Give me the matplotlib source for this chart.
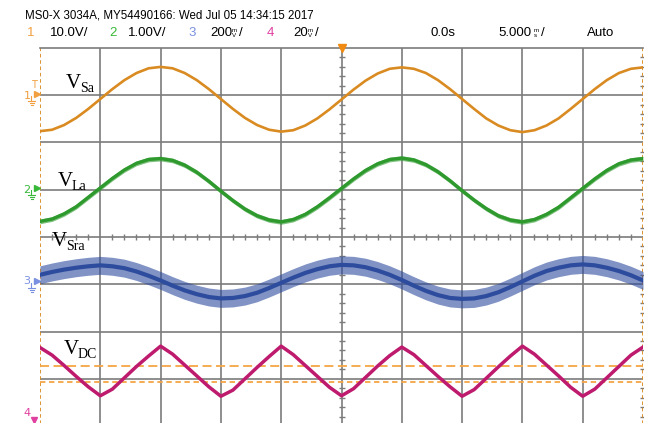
import matplotlib
matplotlib.use("Agg")
import matplotlib.pyplot as plt
import numpy as np

# sample times (ms), 1 ms apart, 10 div x 5 ms/div
t_ms = np.arange(-25, 26)

# trace values in screen divisions (0 = centre line)
v_sa = [2.24, 2.27, 2.37, 2.52, 2.71, 2.92, 3.13, 3.32, 3.47, 3.57,
        3.60, 3.57, 3.47, 3.32, 3.13, 2.92, 2.71, 2.52, 2.37, 2.27,
        2.23, 2.26, 2.36, 2.51, 2.70, 2.91, 3.12, 3.31, 3.46, 3.56,
        3.59, 3.56, 3.47, 3.32, 3.13, 2.92, 2.71, 2.51, 2.36, 2.26,
        2.22, 2.26, 2.36, 2.51, 2.71, 2.92, 3.13, 3.32, 3.47, 3.56, 3.59]
v_la = [0.33, 0.38, 0.49, 0.64, 0.84, 1.04, 1.24, 1.42, 1.56, 1.64,
        1.66, 1.62, 1.52, 1.37, 1.18, 0.97, 0.77, 0.59, 0.45, 0.36,
        0.32, 0.37, 0.48, 0.64, 0.83, 1.03, 1.23, 1.41, 1.55, 1.64,
        1.67, 1.63, 1.53, 1.38, 1.19, 0.98, 0.78, 0.60, 0.45, 0.36,
        0.32, 0.37, 0.48, 0.63, 0.83, 1.03, 1.23, 1.41, 1.55, 1.63, 1.66]
v_sra = [-0.80, -0.74, -0.69, -0.65, -0.62, -0.60, -0.62, -0.66, -0.73, -0.82,
         -0.92, -1.03, -1.13, -1.21, -1.27, -1.30, -1.29, -1.25, -1.18, -1.08,
         -0.97, -0.86, -0.76, -0.68, -0.62, -0.59, -0.60, -0.64, -0.71, -0.80,
         -0.91, -1.03, -1.14, -1.23, -1.29, -1.31, -1.30, -1.25, -1.17, -1.06,
         -0.94, -0.82, -0.72, -0.65, -0.60, -0.58, -0.60, -0.65, -0.72, -0.81, -0.92]
v_dc = [-2.34, -2.50, -2.72, -2.95, -3.17, -3.36, -3.22, -2.98, -2.74, -2.52,
        -2.31, -2.48, -2.71, -2.94, -3.17, -3.37, -3.24, -3.00, -2.76, -2.53,
        -2.31, -2.49, -2.72, -2.95, -3.18, -3.36, -3.21, -2.97, -2.73, -2.51,
        -2.33, -2.49, -2.72, -2.95, -3.17, -3.37, -3.23, -2.99, -2.75, -2.52,
        -2.31, -2.48, -2.71, -2.94, -3.18, -3.37, -3.22, -2.98, -2.74, -2.50, -2.33]
sra_noise = 0.19      # half width of the noisy blue band (div)
la_noise = 0.05
dc_levels = [-2.73, -3.07]   # orange dashed cursor lines

trace_labels = [("S", "a"), ("L", "a"), ("S", "ra"), ("DC", "")]
header = "MS0-X 3034A, MY54490166: Wed Jul 05 14:34:15 2017"

c_orange = "#D98B22"
c_green = "#2E9A2E"
c_blue = "#2D4C9E"
c_magenta = "#BE1A6E"
c_grid = "#7C7C7C"

W, H = 659, 423
fig = plt.figure(figsize=(W / 100, H / 100), dpi=100)
ax = fig.add_axes([40 / W, 1 - 426 / H, 603 / W, 378 / H])
ax.set_xlim(-25, 25)
ax.set_ylim(-4, 4)
ax.set_xticks([])
ax.set_yticks([])
for s in ["left", "right"]:
    ax.spines[s].set_visible(False)
for s in ["top", "bottom"]:
    ax.spines[s].set_color(c_grid)
    ax.spines[s].set_linewidth(1.2)

# graticule
for x in range(-20, 25, 5):
    ax.axvline(x, color=c_grid, lw=1.2, zorder=1)
for y in range(-3, 4):
    ax.axhline(y, color=c_grid, lw=1.2, zorder=1)
minor_x = [x for x in range(-24, 25) if x % 5 != 0]
minor_y = [y / 5 for y in range(-19, 20) if y % 5 != 0]
ax.plot(minor_x, [0] * len(minor_x), ls="", marker="|", ms=5, mew=1, color=c_grid, zorder=1)
ax.plot([0] * len(minor_y), minor_y, ls="", marker="_", ms=5, mew=1, color=c_grid, zorder=1)
ax.plot([25] * len(minor_y), minor_y, ls="", marker="_", ms=5, mew=1, color=c_grid, zorder=1)
ax.axvline(-25, color=c_orange, lw=1.3, ls=(0, (2, 1.5)), zorder=2)
ax.axvline(25, color=c_orange, lw=1.3, ls=(0, (2, 1.5)), zorder=2)

# cursors
ax.axhline(dc_levels[0], color="#F5A544", lw=1.3, ls=(0, (5, 2.5)), zorder=2)
ax.axhline(dc_levels[1], color="#F5A544", lw=1.3, ls=(0, (3, 2)), zorder=2)

# traces
ax.plot(t_ms, v_sa, color=c_orange, lw=1.9, zorder=4)
la = np.array(v_la)
ax.fill_between(t_ms, la - la_noise, la + la_noise, color=c_green, lw=0, alpha=0.6, zorder=3)
ax.plot(t_ms, v_la, color=c_green, lw=2.4, zorder=4)
sra = np.array(v_sra)
ax.fill_between(t_ms, sra - sra_noise, sra + sra_noise, color=c_blue, lw=0, alpha=0.6, zorder=3)
ax.plot(t_ms, v_sra, color=c_blue, lw=3.0, zorder=4)
ax.plot(t_ms, v_dc, color=c_magenta, lw=2.5, zorder=4)

# trigger marker at top
ax.plot(0, 4, marker="v", ms=6, color="#F08A10", clip_on=False, zorder=6)


def px(x, y):
    return (x - 341.5) / 12.06, (236.5 - y) / 47.25


# trace names
label_pos = [(66, 87), (58, 185), (52, 245), (64, 353)]
for (main, sub), (x, y) in zip(trace_labels, label_pos):
    xx, yy = px(x, y)
    ax.text(xx, yy, "V", fontsize=15, family="Liberation Serif", va="baseline", ha="left", zorder=7)
    ax.text(xx + 1.15, yy - 0.1, main + sub, fontsize=10, family="Liberation Serif",
            va="baseline", ha="left", zorder=7)

# channel ground markers on the left
chan = [("1", 95, "#F0A040"), ("2", 189, "#38B838"), ("3", 281, "#7A90E0"), ("4", 412, "#E040A0")]
for name, y, col in chan:
    xx, yy = px(27, y)
    ax.text(xx, yy, name, fontsize=8, color=col, ha="center", va="center", clip_on=False)
    if name != "4":
        ax.plot(*px(37, y - 1), marker=">", ms=4, color=col, clip_on=False)
        ax.plot(*zip(px(31, y + 1), px(31, y + 6)), color=col, lw=0.8, clip_on=False)
        ax.plot(*zip(px(28, y + 6), px(35, y + 6)), color=col, lw=0.8, clip_on=False)
        ax.plot(*zip(px(29.5, y + 8), px(33.5, y + 8)), color=col, lw=0.8, clip_on=False)
        ax.plot(*zip(px(30.5, y + 10), px(32.5, y + 10)), color=col, lw=0.8, clip_on=False)
    else:
        ax.plot(*px(34, 419), marker="v", ms=4, color=col, clip_on=False)
ax.text(*px(34, 84), "T", fontsize=7, color="#F0A040", ha="center", va="center", clip_on=False)

# header
hfont = ["Liberation Sans", "DejaVu Sans"]


def htext(x, y, s, col="black", size=9.5):
    fig.text(x / W, 1 - y / H, s, color=col, fontsize=size, family=hfont, ha="left", va="center")


def stacked(x, y, top, bot):
    fig.text(x / W, 1 - y / H, top + "\n" + bot, fontsize=4.5, family=hfont,
             ha="left", va="center", linespacing=0.9)


htext(25, 16, header, size=8.3)
htext(27, 33, "1", "#F0A040")
htext(50, 33, "10.0V/")
htext(109, 33, "2", "#38B838")
htext(128, 33, "1.00V/")
htext(188, 33, "3", "#7A90E0")
htext(210, 33, "200")
stacked(232, 33, "m", "V")
htext(239, 33, "/")
htext(267, 33, "4", "#E040A0")
htext(293, 33, "20")
stacked(308, 33, "m", "V")
htext(315, 33, "/")
htext(430, 33, "0.0s")
htext(498, 33, "5.000")
stacked(534, 33, "m", "s")
htext(541, 33, "/")
htext(587, 33, "Auto")

fig.savefig("out.png", dpi=100)
